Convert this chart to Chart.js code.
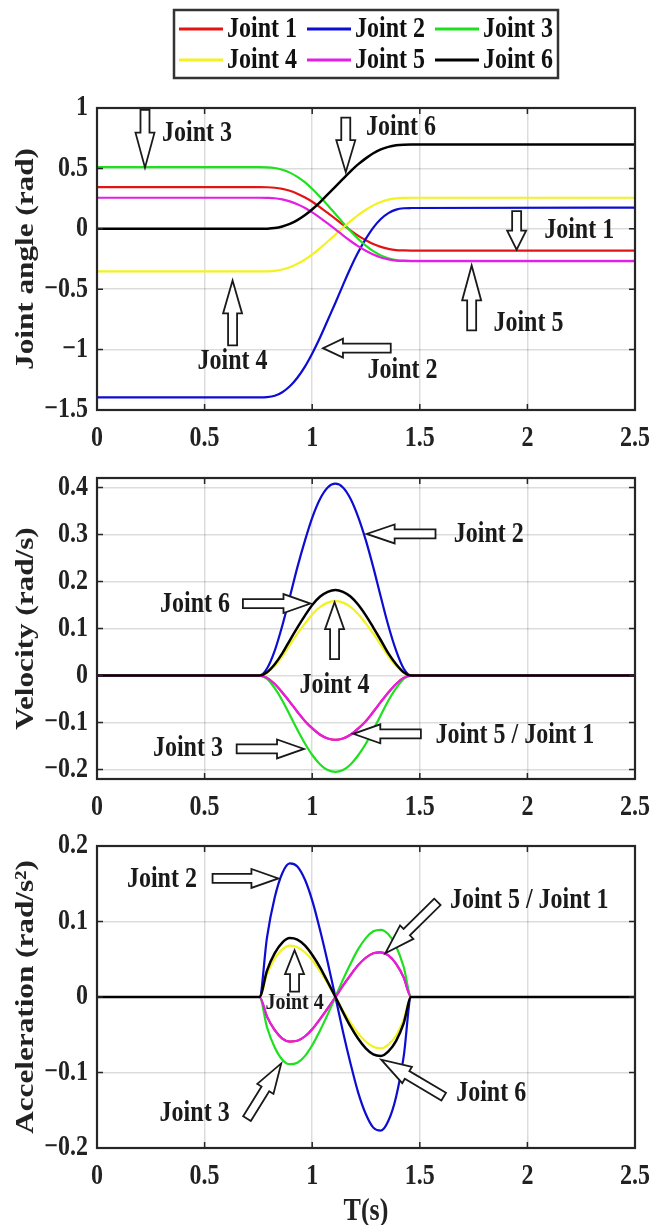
<!DOCTYPE html>
<html>
<head>
<meta charset="utf-8">
<title>Joint trajectories</title>
<script src="https://cdn.jsdelivr.net/npm/chart.js@4.4.1/dist/chart.umd.min.js"></script>
<style>
  html, body { margin: 0; padding: 0; background: #fff; }
  #wrap { position: relative; width: 651px; height: 1225px; overflow: hidden; background: #fff; }
  #wrap canvas { position: absolute; left: 0; }
</style>
</head>
<body>
<div id="wrap">
  <canvas id="angleChart" width="700" height="455" style="top:0px;width:700px;height:455px"></canvas>
  <canvas id="velChart" width="700" height="384" style="top:440px;width:700px;height:384px"></canvas>
  <canvas id="accChart" width="700" height="420" style="top:805px;width:700px;height:420px"></canvas>
</div>
<script>
//Joint names and colours (matlab r, b, g, y, m, k)
const jointNames = ["Joint 1", "Joint 2", "Joint 3", "Joint 4", "Joint 5", "Joint 6"];
const jointColors = ["#e31414", "#0c0cd2", "#1ee01e", "#f2f220", "#e41ee4", "#000000"];

//Time samples (s), shared by all series
const timeS = [0, 0.755, 0.790, 0.826, 0.861, 0.896, 0.931, 0.967, 1.002, 1.037, 1.072, 1.108,
  1.143, 1.178, 1.213, 1.249, 1.284, 1.319, 1.354, 1.390, 1.425, 1.460, 2.5];

//Joint angle (rad)
const angleJ1 = [0.345, 0.345, 0.344, 0.340, 0.331, 0.315, 0.291, 0.259, 0.222, 0.178, 0.131, 0.083, 0.034, -0.013, -0.057, -0.094, -0.126, -0.150, -0.166, -0.176, -0.179, -0.180, -0.180];
const angleJ2 = [-1.395, -1.395, -1.393, -1.382, -1.353, -1.304, -1.233, -1.139, -1.026, -0.898, -0.757, -0.612, -0.466, -0.325, -0.197, -0.084, 0.010, 0.081, 0.130, 0.159, 0.170, 0.172, 0.176];
const angleJ3 = [0.510, 0.510, 0.509, 0.503, 0.489, 0.465, 0.430, 0.384, 0.328, 0.264, 0.195, 0.123, 0.050, -0.019, -0.083, -0.139, -0.185, -0.220, -0.244, -0.258, -0.264, -0.265, -0.265];
const angleJ4 = [-0.353, -0.353, -0.352, -0.348, -0.337, -0.318, -0.290, -0.254, -0.210, -0.159, -0.105, -0.048, 0.009, 0.063, 0.114, 0.158, 0.194, 0.222, 0.241, 0.252, 0.256, 0.257, 0.257];
const angleJ5 = [0.257, 0.257, 0.256, 0.253, 0.243, 0.227, 0.203, 0.172, 0.134, 0.091, 0.044, -0.005, -0.054, -0.101, -0.144, -0.182, -0.213, -0.237, -0.253, -0.263, -0.266, -0.267, -0.267];
const angleJ6 = [0, 0, 0.001, 0.006, 0.019, 0.040, 0.072, 0.114, 0.164, 0.221, 0.284, 0.349, 0.413, 0.476, 0.533, 0.583, 0.625, 0.657, 0.678, 0.691, 0.696, 0.697, 0.697];

//Velocity (rad/s)
const velJ1 = [0, 0, -0.005, -0.018, -0.036, -0.056, -0.077, -0.097, -0.113, -0.126, -0.134, -0.137, -0.134, -0.126, -0.113, -0.097, -0.077, -0.056, -0.036, -0.018, -0.005, 0, 0];
const velJ2 = [0, 0, 0.015, 0.053, 0.106, 0.167, 0.230, 0.288, 0.338, 0.376, 0.400, 0.408, 0.400, 0.376, 0.338, 0.288, 0.230, 0.167, 0.106, 0.053, 0.015, 0, 0];
const velJ3 = [0, 0, -0.007, -0.027, -0.053, -0.084, -0.115, -0.145, -0.170, -0.189, -0.201, -0.205, -0.201, -0.189, -0.170, -0.145, -0.115, -0.084, -0.053, -0.027, -0.007, 0, 0];
const velJ4 = [0, 0, 0.006, 0.020, 0.041, 0.065, 0.089, 0.111, 0.131, 0.146, 0.155, 0.158, 0.155, 0.146, 0.131, 0.111, 0.089, 0.065, 0.041, 0.020, 0.006, 0, 0];
const velJ5 = [0, 0, -0.005, -0.018, -0.036, -0.056, -0.077, -0.097, -0.113, -0.126, -0.134, -0.137, -0.134, -0.126, -0.113, -0.097, -0.077, -0.056, -0.036, -0.018, -0.005, 0, 0];
const velJ6 = [0, 0, 0.007, 0.024, 0.047, 0.075, 0.102, 0.128, 0.151, 0.168, 0.178, 0.182, 0.178, 0.168, 0.151, 0.128, 0.102, 0.075, 0.047, 0.024, 0.007, 0, 0];

//Acceleration (rad/s^2)
const accJ1 = [0, 0, -0.026, -0.044, -0.055, -0.059, -0.058, -0.052, -0.042, -0.029, -0.015, 0, 0.015, 0.029, 0.042, 0.052, 0.058, 0.059, 0.055, 0.044, 0.026, 0, 0];
const accJ2 = [0, 0, 0.079, 0.132, 0.164, 0.177, 0.173, 0.155, 0.126, 0.088, 0.046, 0, -0.046, -0.088, -0.126, -0.155, -0.173, -0.177, -0.164, -0.132, -0.079, 0, 0];
const accJ3 = [0, 0, -0.040, -0.067, -0.083, -0.089, -0.087, -0.078, -0.063, -0.044, -0.023, 0, 0.023, 0.044, 0.063, 0.078, 0.087, 0.089, 0.083, 0.067, 0.040, 0, 0];
const accJ4 = [0, 0, 0.030, 0.051, 0.063, 0.068, 0.066, 0.059, 0.048, 0.034, 0.018, 0, -0.018, -0.034, -0.048, -0.059, -0.066, -0.068, -0.063, -0.051, -0.030, 0, 0];
const accJ5 = [0, 0, -0.026, -0.044, -0.055, -0.059, -0.058, -0.052, -0.042, -0.029, -0.015, 0, 0.015, 0.029, 0.042, 0.052, 0.058, 0.059, 0.055, 0.044, 0.026, 0, 0];
const accJ6 = [0, 0, 0.035, 0.058, 0.072, 0.078, 0.076, 0.068, 0.055, 0.039, 0.020, 0, -0.020, -0.039, -0.055, -0.068, -0.076, -0.078, -0.072, -0.058, -0.035, 0, 0];

//Tick labels
const xTicks = [0, 0.5, 1, 1.5, 2, 2.5];
const angleTicks = [-1.5, -1, -0.5, 0, 0.5, 1];
const velTicks = [-0.2, -0.1, 0, 0.1, 0.2, 0.3, 0.4];
const accTicks = [-0.2, -0.1, 0, 0.1, 0.2];

//Callout arrows (tail -> tip) and notes, in data units of each plot
const angleArrows = [
  { tail: [0.223, 0.985], tip: [0.223, 0.506], head: 35 },
  { tail: [1.156, 0.920], tip: [1.156, 0.469], head: 32 },
  { tail: [1.950, 0.147], tip: [1.950, -0.173], head: 19 },
  { tail: [1.741, -0.841], tip: [1.741, -0.303], head: 35 },
  { tail: [0.630, -0.965], tip: [0.630, -0.427], head: 33 },
  { tail: [1.365, -0.988], tip: [1.050, -0.988], head: 20 }
];
const angleNotes = [
  { text: "Joint 3", at: [0.302, 0.790], align: "left" },
  { text: "Joint 6", at: [1.250, 0.837], align: "left" },
  { text: "Joint 1", at: [2.078, -0.013], align: "left" },
  { text: "Joint 5", at: [1.842, -0.786], align: "left" },
  { text: "Joint 4", at: [0.630, -1.095], align: "center" },
  { text: "Joint 2", at: [1.257, -1.172], align: "left" }
];
const velArrows = [
  { tail: [1.573, 0.301], tip: [1.253, 0.301], head: 28 },
  { tail: [0.678, 0.153], tip: [0.992, 0.153], head: 27 },
  { tail: [1.104, 0.035], tip: [1.104, 0.156], head: 27 },
  { tail: [0.649, -0.156], tip: [0.962, -0.156], head: 27 },
  { tail: [1.505, -0.124], tip: [1.191, -0.124], head: 27 }
];
const velNotes = [
  { text: "Joint 2", at: [1.658, 0.299], align: "left" },
  { text: "Joint 6", at: [0.293, 0.150], align: "left" },
  { text: "Joint 4", at: [1.104, -0.021], align: "center" },
  { text: "Joint 3", at: [0.260, -0.156], align: "left" },
  { text: "Joint 5 / Joint 1", at: [1.573, -0.127], align: "left" }
];
const accArrows = [
  { tail: [0.537, 0.157], tip: [0.843, 0.157], head: 27 },
  { tail: [1.582, 0.126], tip: [1.340, 0.058], head: 30 },
  { tail: [0.918, 0.007], tip: [0.918, 0.062], head: 24 },
  { tail: [0.697, -0.161], tip: [0.856, -0.088], head: 30 },
  { tail: [1.611, -0.132], tip: [1.321, -0.083], head: 30 }
];
const accNotes = [
  { text: "Joint 2", at: [0.139, 0.155], align: "left" },
  { text: "Joint 5 / Joint 1", at: [1.640, 0.128], align: "left" },
  { text: "Joint 4", at: [0.918, -0.008], align: "center", size: 20 },
  { text: "Joint 3", at: [0.291, -0.154], align: "left" },
  { text: "Joint 6", at: [1.669, -0.128], align: "left" }
];

const serif = '"Liberation Serif", "Times New Roman", serif';
const textStretch = 1.2;   // the figure text is taller than wide
Chart.defaults.font.family = serif;
Chart.defaults.font.weight = 'bold';
Chart.defaults.color = '#222';

function tickLabel(v) {
  return String(v).replace('-', '\u2212');
}

function buildSets(series) {
  return series.map(function (values, i) {
    return {
      label: jointNames[i],
      data: timeS.map(function (t, k) { return { x: t, y: values[k] }; }),
      borderColor: jointColors[i],
      backgroundColor: jointColors[i],
      borderWidth: i === 5 ? 2.5 : 2.2,
      pointRadius: 0,
      fill: false,
      cubicInterpolationMode: 'monotone',
      order: 6 - i
    };
  });
}

//Stretch every text vertically (on screen) round its anchor
const tallText = {
  id: 'tallText',
  beforeInit(chart) {
    const ctx = chart.ctx;
    if (ctx._tall) return;
    ctx._tall = true;
    const orig = ctx.fillText;
    ctx.fillText = function (text, x, y, maxWidth) {
      const m = this.getTransform();
      const py = m.b * x + m.d * y + m.f;
      this.save();
      this.setTransform(1, 0, 0, textStretch, 0, py * (1 - textStretch));
      this.transform(m.a, m.b, m.c, m.d, m.e, m.f);
      if (maxWidth === undefined) orig.call(this, text, x, y);
      else orig.call(this, text, x, y, maxWidth);
      this.restore();
    };
  }
};

//Box round the axes with inward ticks, like matlab
const framePlugin = {
  id: 'frame',
  afterDatasetsDraw(chart) {
    const a = chart.chartArea;
    const ctx = chart.ctx;
    const xs = chart.scales.x, ys = chart.scales.y;
    ctx.save();
    ctx.strokeStyle = '#262626';
    ctx.lineWidth = 1.5;
    ctx.beginPath();
    xs.ticks.forEach(function (t) {
      const px = xs.getPixelForValue(t.value);
      ctx.moveTo(px, a.bottom); ctx.lineTo(px, a.bottom - 6);
      ctx.moveTo(px, a.top); ctx.lineTo(px, a.top + 6);
    });
    ys.ticks.forEach(function (t) {
      const py = ys.getPixelForValue(t.value);
      ctx.moveTo(a.left, py); ctx.lineTo(a.left + 6, py);
      ctx.moveTo(a.right, py); ctx.lineTo(a.right - 6, py);
    });
    ctx.stroke();
    ctx.lineWidth = 2.2;
    ctx.strokeRect(a.left, a.top, a.right - a.left, a.bottom - a.top);
    ctx.restore();
  }
};

function drawBlockArrow(ctx, x1, y1, x2, y2, head) {
  const dx = x2 - x1, dy = y2 - y1;
  const len = Math.hypot(dx, dy);
  const ux = dx / len, uy = dy / len;
  const nx = -uy, ny = ux;
  const sw = 4.5, hw = 9.5;
  const bx = x2 - ux * head, by = y2 - uy * head;
  ctx.beginPath();
  ctx.moveTo(x1 + nx * sw, y1 + ny * sw);
  ctx.lineTo(bx + nx * sw, by + ny * sw);
  ctx.lineTo(bx + nx * hw, by + ny * hw);
  ctx.lineTo(x2, y2);
  ctx.lineTo(bx - nx * hw, by - ny * hw);
  ctx.lineTo(bx - nx * sw, by - ny * sw);
  ctx.lineTo(x1 - nx * sw, y1 - ny * sw);
  ctx.closePath();
  ctx.fillStyle = '#fff';
  ctx.fill();
  ctx.strokeStyle = '#1a1a1a';
  ctx.lineWidth = 1.8;
  ctx.stroke();
}

function makeCallouts(arrows, notes) {
  return {
    id: 'callouts',
    afterDraw(chart) {
      const ctx = chart.ctx;
      const xs = chart.scales.x, ys = chart.scales.y;
      ctx.save();
      arrows.forEach(function (ar) {
        drawBlockArrow(ctx,
          xs.getPixelForValue(ar.tail[0]), ys.getPixelForValue(ar.tail[1]),
          xs.getPixelForValue(ar.tip[0]), ys.getPixelForValue(ar.tip[1]), ar.head);
      });
      ctx.fillStyle = '#1a1a1a';
      ctx.textBaseline = 'middle';
      notes.forEach(function (n) {
        ctx.font = 'bold ' + (n.size || 24) + 'px ' + serif;
        ctx.textAlign = n.align;
        ctx.fillText(n.text, xs.getPixelForValue(n.at[0]), ys.getPixelForValue(n.at[1]));
      });
      ctx.restore();
    }
  };
}

//Shared legend at the top of the first plot
const legendPlugin = {
  id: 'legendBox',
  afterDraw(chart) {
    const ctx = chart.ctx;
    ctx.save();
    ctx.fillStyle = '#fff';
    ctx.fillRect(174, 10, 384, 68);
    ctx.strokeStyle = '#333';
    ctx.lineWidth = 2.5;
    ctx.strokeRect(174, 10, 384, 68);
    ctx.font = 'bold 24px ' + serif;
    ctx.textBaseline = 'middle';
    ctx.textAlign = 'left';
    jointNames.forEach(function (name, i) {
      const col = i % 3, row = Math.floor(i / 3);
      const x = 179 + col * 128, y = 29 + row * 31;
      ctx.strokeStyle = jointColors[i];
      ctx.lineWidth = 3;
      ctx.beginPath();
      ctx.moveTo(x, y);
      ctx.lineTo(x + 44, y);
      ctx.stroke();
      ctx.fillStyle = '#111';
      ctx.fillText(name, x + 48, y + 1);
    });
    ctx.restore();
  }
};

function makeOptions(yMin, yMax, yTicks, yTitle, xTitle, padTop, xHeight) {
  return {
    responsive: false,
    animation: false,
    events: [],
    layout: { padding: { top: padTop, right: 65, bottom: 0, left: 0 } },
    plugins: { legend: { display: false }, tooltip: { enabled: false } },
    scales: {
      x: {
        type: 'linear',
        min: 0,
        max: 2.5,
        afterBuildTicks: function (scale) { scale.ticks = xTicks.map(function (v) { return { value: v }; }); },
        afterFit: function (scale) { scale.height = xHeight; },
        grid: { color: 'rgba(38,38,38,0.16)', lineWidth: 1.5, drawTicks: false },
        border: { display: false },
        ticks: {
          font: { size: 24, lineHeight: 1 },
          padding: 17,
          maxRotation: 0,
          callback: tickLabel
        },
        title: {
          display: xTitle !== '',
          text: xTitle,
          font: { size: 26, lineHeight: 1 },
          padding: { top: 0, bottom: 0 }
        }
      },
      y: {
        type: 'linear',
        min: yMin,
        max: yMax,
        afterBuildTicks: function (scale) { scale.ticks = yTicks.map(function (v) { return { value: v }; }); },
        afterFit: function (scale) { scale.width = 97; },
        grid: { color: 'rgba(38,38,38,0.16)', lineWidth: 1.5, drawTicks: false },
        border: { display: false },
        ticks: {
          font: { size: 24, lineHeight: 1 },
          padding: 9,
          callback: tickLabel
        },
        title: {
          display: true,
          text: yTitle,
          font: { size: 26, lineHeight: 1.2 },
          padding: { top: 11, bottom: 0 }
        }
      }
    }
  };
}

var angleChart = new Chart(document.getElementById('angleChart').getContext('2d'), {
  type: 'line',
  data: { datasets: buildSets([angleJ1, angleJ2, angleJ3, angleJ4, angleJ5, angleJ6]) },
  options: makeOptions(-1.5, 1, angleTicks, 'Joint angle (rad)', '', 108, 45),
  plugins: [tallText, framePlugin, makeCallouts(angleArrows, angleNotes), legendPlugin]
});

var velChart = new Chart(document.getElementById('velChart').getContext('2d'), {
  type: 'line',
  data: { datasets: buildSets([velJ1, velJ2, velJ3, velJ4, velJ5, velJ6]) },
  options: makeOptions(-0.22, 0.42, velTicks, 'Velocity (rad/s)', '', 38, 45),
  plugins: [tallText, framePlugin, makeCallouts(velArrows, velNotes)]
});

var accChart = new Chart(document.getElementById('accChart').getContext('2d'), {
  type: 'line',
  data: { datasets: buildSets([accJ1, accJ2, accJ3, accJ4, accJ5, accJ6]) },
  options: makeOptions(-0.2, 0.2, accTicks, 'Acceleration (rad/s\u00B2)', 'T(s)', 41, 77),
  plugins: [tallText, framePlugin, makeCallouts(accArrows, accNotes)]
});
</script>
</body>
</html>
